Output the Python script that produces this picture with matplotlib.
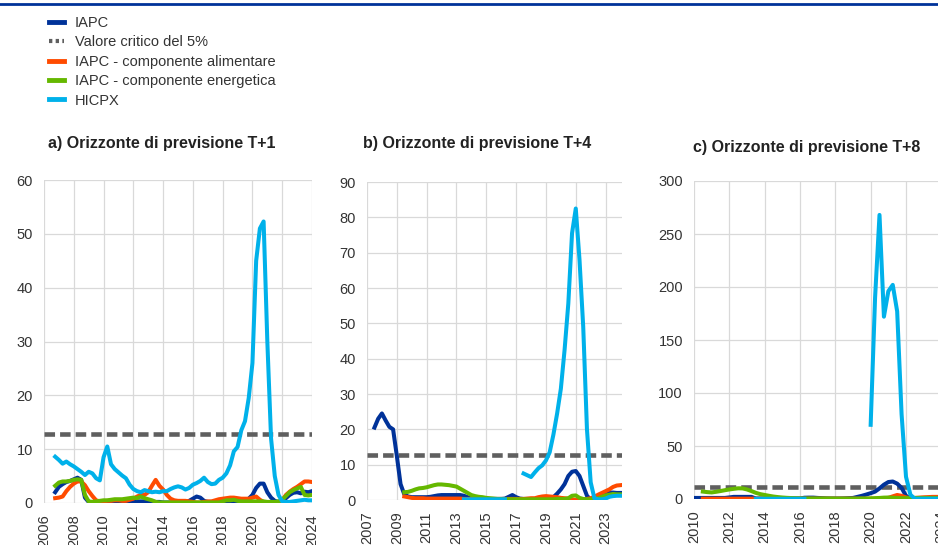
import numpy as np
import matplotlib
matplotlib.use('Agg')
import matplotlib.pyplot as plt
from matplotlib.lines import Line2D

plt.rcParams['font.family'] = ['Liberation Sans', 'DejaVu Sans']

nan = np.nan

# colori
blu = '#003299'
arancio = '#FF4B00'
verde = '#65B800'
azzurro = '#00B1EA'
grigio = '#5F5F5F'
testo = '#333333'

etichette = ['IAPC', 'Valore critico del 5%', 'IAPC - componente alimentare',
             'IAPC - componente energetica', 'HICPX']

titoli = ['a) Orizzonte di previsione T+1',
          'b) Orizzonte di previsione T+4',
          'c) Orizzonte di previsione T+8']

valore_critico = [12.9, 12.8, 11.0]

### a) T+1 : trimestri da 2006 Q4 a 2024 Q1
trim_a = np.arange(2006.75, 2024.01, 0.25)

iapc_a = [2.0,
          3.0, 3.5, 3.9, 4.1,
          4.4, 4.7, 4.3, 1.0,
          0.2, 0.1, 0.1, 0.1,
          0.1, 0.1, 0.1, 0.1,
          0.1, 0.1, 0.2, 0.2,
          0.3, 0.3, 0.3, 0.3,
          0.3, 0.3, 0.2, 0.2,
          0.1, 0.1, 0.1, 0.1,
          0.1, 0.1, 0.2, 0.4,
          0.8, 1.2, 1.0, 0.4,
          0.2, 0.2, 0.2, 0.2,
          0.2, 0.2, 0.3, 0.3,
          0.3, 0.3, 0.4, 0.8,
          1.5, 2.8, 3.6, 3.6,
          2.0, 1.0, 0.4, 0.2,
          0.3, 0.9, 1.5, 1.9,
          2.0, 1.8, 2.1, 2.0,
          2.2]

alim_a = [0.9,
          1.0, 1.2, 2.2, 3.0,
          3.6, 4.0, 4.0, 3.3,
          2.2, 1.3, 0.5, 0.3,
          0.3, 0.4, 0.4, 0.5,
          0.5, 0.4, 0.4, 0.6,
          0.8, 1.2, 1.5, 1.5,
          2.0, 3.2, 4.3, 3.2,
          2.5, 1.5, 0.8, 0.5,
          0.4, 0.4, 0.4, 0.3,
          0.2, 0.1, 0.1, 0.2,
          0.3, 0.3, 0.5, 0.7,
          0.8, 0.9, 1.0, 1.0,
          0.9, 0.8, 0.8, 0.8,
          1.0, 1.2, 0.6, 0.2,
          0.1, 0.1, 0.1, 0.1,
          0.5, 1.5, 2.1, 2.6,
          3.0, 3.5, 4.0, 4.0,
          3.9]

ener_a = [3.2,
          3.8, 4.0, 4.0, 4.1,
          4.3, 4.4, 4.3, 1.5,
          0.3, 0.2, 0.3, 0.4,
          0.5, 0.5, 0.6, 0.7,
          0.7, 0.7, 0.8, 0.9,
          1.0, 0.9, 1.2, 0.9,
          0.7, 0.5, 0.2, 0.1,
          0.1, 0.1, 0.1, 0.1,
          0.1, 0.1, 0.1, 0.1,
          0.1, 0.1, 0.1, 0.1,
          0.1, 0.1, 0.1, 0.1,
          0.3, 0.5, 0.5, 0.6,
          0.4, 0.3, 0.3, 0.3,
          0.3, 0.3, 0.3, 0.3,
          0.2, 0.2, 0.2, 0.3,
          0.6, 1.3, 2.0, 2.4,
          2.7, 3.0, 1.5, 1.4,
          1.5]

hicpx_a = [8.6,
           8.0, 7.3, 7.7, 7.2,
           6.8, 6.3, 5.8, 5.2,
           5.8, 5.5, 4.6, 4.2,
           8.5, 10.5, 7.2, 6.3,
           5.7, 5.1, 4.6, 3.4,
           2.6, 2.2, 2.0, 2.4,
           2.2, 2.0, 2.1, 2.0,
           2.2, 2.2, 2.6, 2.9,
           3.1, 2.9, 2.5, 2.8,
           3.4, 3.7, 4.1, 4.7,
           3.9, 3.5, 3.6, 4.3,
           4.7, 5.5, 7.0, 9.6,
           10.4, 13.5, 15.2, 19.5,
           26.0, 45.0, 51.0, 52.3,
           30.0, 12.0, 5.0, 1.5,
           0.3, 0.2, 0.2, 0.3,
           0.4, 0.5, 0.6, 0.5,
           0.5]

### b) T+4 : trimestri da 2007 Q3 a 2024 Q1
trim_b = np.arange(2007.5, 2024.01, 0.25)

iapc_b = [20.5, 23.0,
          24.5, 22.5, 20.7, 20.0,
          12.5, 4.5, 1.6, 1.0,
          0.8, 0.8, 0.8, 0.8,
          0.8, 0.9, 1.1, 1.3,
          1.4, 1.4, 1.4, 1.4,
          1.4, 1.4, 1.2, 0.8,
          0.4, 0.3, 0.3, 0.3,
          0.3, 0.3, 0.3, 0.3,
          0.3, 0.4, 0.9, 1.4,
          0.8, 0.4, 0.3, 0.3,
          0.3, 0.3, 0.3, 0.3,
          0.3, 0.4, 0.8, 1.8,
          3.0, 4.5, 6.8, 8.0,
          8.2, 6.8, 4.0, 1.2,
          0.1, 0.1, 0.3, 1.0,
          1.8, 2.1, 2.1, 2.0,
          2.0]

alim_b = [nan, nan,
          nan, nan, nan, nan,
          nan, nan, 1.0, 0.8,
          0.6, 0.5, 0.5, 0.5,
          0.4, 0.4, 0.4, 0.4,
          0.4, 0.4, 0.4, 0.4,
          0.4, 0.4, 0.3, 0.3,
          0.3, 0.3, 0.3, 0.3,
          0.3, 0.3, 0.3, 0.3,
          0.3, 0.3, 0.3, 0.3,
          0.3, 0.3, 0.3, 0.4,
          0.5, 0.5, 0.8, 1.0,
          1.1, 1.0, 0.9, 0.8,
          0.6, 0.5, 0.4, 0.2,
          0.0, 0.1, 0.2, 0.3,
          0.5, 0.9, 1.5, 2.0,
          2.5, 3.0, 3.7, 4.1,
          4.2]

ener_b = [nan, nan,
          nan, nan, nan, nan,
          nan, nan, 2.2, 2.3,
          2.6, 3.0, 3.3, 3.4,
          3.6, 3.9, 4.2, 4.4,
          4.4, 4.3, 4.2, 4.0,
          3.8, 3.2, 2.6, 2.0,
          1.4, 1.1, 0.9, 0.8,
          0.6, 0.5, 0.4, 0.3,
          0.3, 0.2, 0.2, 0.2,
          0.2, 0.2, 0.2, 0.2,
          0.2, 0.2, 0.2, 0.2,
          0.2, 0.2, 0.2, 0.3,
          0.3, 0.3, 0.5, 1.2,
          1.3, 0.6, 0.3, 0.2,
          0.2, 0.3, 0.5, 0.9,
          1.3, 1.5, 1.7, 1.6,
          1.6]

hicpx_b = [nan, nan,
           nan, nan, nan, nan,
           nan, nan, nan, nan,
           nan, nan, nan, nan,
           nan, nan, nan, nan,
           nan, nan, nan, nan,
           nan, nan, 0.2, 0.2,
           0.2, 0.2, 0.2, 0.2,
           0.2, 0.2, 0.2, 0.2,
           0.2, 0.2, nan, nan,
           nan, nan, 7.5, 7.0,
           6.5, 7.8, 9.0, 9.8,
           11.2, 13.5, 18.5, 24.5,
           31.5, 42.5, 55.6, 75.5,
           82.5, 68.0, 49.0, 20.0,
           5.0, 0.5, 0.2, 0.2,
           0.4, 0.9, 1.1, 1.2,
           1.2]

### c) T+8 : trimestri da 2010 Q1 a 2024 Q1
trim_c = np.arange(2010.0, 2024.01, 0.25)

iapc_c = [1.0, 1.0, 1.0, 1.0,
          1.0, 1.0, 1.0, 1.0,
          1.5, 2.0, 2.0, 2.0,
          2.0, 2.0, 0.5, 0.5,
          0.5, 0.5, 0.5, 0.5,
          0.5, 0.5, 0.5, 0.5,
          0.5, 1.2, 1.3, 1.3,
          1.0, 0.8, 0.6, 0.5,
          0.5, 0.5, 0.6, 0.8,
          1.0, 2.0, 3.0, 4.2,
          5.5, 7.0, 10.0, 13.5,
          16.0, 16.5, 14.5, 10.5,
          3.0, 0.5, 0.3, 0.3,
          0.3, 0.3, 0.3, 0.3,
          0.3]

alim_c = [nan, nan, 0.3, 0.3,
          0.3, 0.3, 0.3, 0.3,
          0.3, 0.3, 0.3, 0.3,
          0.3, 0.3, 0.3, 0.3,
          0.3, 0.3, 0.3, 0.3,
          0.3, 0.3, 0.3, 0.3,
          0.3, 0.3, 0.3, 0.3,
          0.3, 0.3, 0.3, 0.3,
          0.3, 0.3, 0.3, 0.3,
          0.3, 0.3, 0.3, 0.3,
          0.3, 0.3, 0.5, 0.8,
          1.0, 2.5, 3.8, 3.0,
          1.5, 0.8, 1.0, 1.3,
          1.6, 1.8, 2.0, 2.0,
          2.0]

ener_c = [nan, nan, 7.0, 6.5,
          6.2, 6.8, 7.5, 8.3,
          9.0, 9.6, 10.1, 10.0,
          9.0, 7.5, 5.8, 4.6,
          3.8, 3.0, 2.3, 1.8,
          1.4, 1.1, 0.9, 0.7,
          0.6, 0.5, 0.5, 0.5,
          0.5, 0.5, 0.5, 0.5,
          0.4, 0.4, 0.4, 0.4,
          0.4, 0.4, 0.5, 0.5,
          0.6, 0.8, 1.0, 1.3,
          1.4, 1.2, 1.0, 0.8,
          0.8, 1.0, 1.0, 1.0,
          1.0, 1.0, 1.0, 1.0,
          1.0]

hicpx_c = [nan, nan, nan, nan,
           nan, nan, nan, nan,
           nan, nan, nan, nan,
           nan, nan, 0.2, 0.2,
           0.2, 0.2, 0.2, 0.2,
           0.2, 0.2, 0.2, 0.2,
           0.2, 0.2, nan, nan,
           nan, nan, nan, nan,
           nan, nan, nan, nan,
           nan, nan, nan, nan,
           70.0, 190.0, 268.0, 172.0,
           196.0, 202.0, 177.0, 80.0,
           21.0, 4.0, 0.3, 0.3,
           0.3, 0.3, 0.3, 0.3,
           0.3]

# assi: xlim, xticks, ylim, yticks
xlim_list = [(2006, 2024), (2007, 2024.1), (2010, 2025)]
xtick_list = [np.arange(2006, 2025, 2), np.arange(2007, 2024, 2), np.arange(2010, 2025, 2)]
ylim_list = [(0, 60), (0, 90), (0, 300)]
ytick_list = [np.arange(0, 61, 10), np.arange(0, 91, 10), np.arange(0, 301, 50)]

dati = [(trim_a, iapc_a, alim_a, ener_a, hicpx_a),
        (trim_b, iapc_b, alim_b, ener_b, hicpx_b),
        (trim_c, iapc_c, alim_c, ener_c, hicpx_c)]

W, H = 938, 545
fig = plt.figure(figsize=(W / 100, H / 100), dpi=100)

# posizioni pannelli in pixel: sinistra, destra, alto, basso
box_px = [(44, 312, 180, 503), (367, 622, 182, 500), (694, 959, 181, 499)]
titolo_px = [(48, 143), (363, 143), (693, 147)]

lw = 2.9
for i in range(3):
    l, r, t, b = box_px[i]
    ax = fig.add_axes([l / W, 1 - b / H, (r - l) / W, (b - t) / H])
    x, iapc, alim, ener, hicpx = dati[i]

    ax.axhline(valore_critico[i], color=grigio, lw=3.3, dashes=(2.3, 1.1), zorder=2)
    ax.plot(x, iapc, color=blu, lw=lw, zorder=3, solid_joinstyle='round')
    ax.plot(x, alim, color=arancio, lw=lw, zorder=3, solid_joinstyle='round')
    ax.plot(x, ener, color=verde, lw=lw, zorder=3, solid_joinstyle='round')
    ax.plot(x, hicpx, color=azzurro, lw=lw, zorder=4, solid_joinstyle='round')

    ax.set_xlim(xlim_list[i])
    ax.set_ylim(ylim_list[i])
    ax.set_xticks(xtick_list[i])
    ax.set_yticks(ytick_list[i])
    ax.set_xticklabels([str(v) for v in xtick_list[i]], rotation=90)
    ax.tick_params(length=0, labelsize=10.5, colors=testo)
    ax.tick_params(axis='x', pad=8)
    ax.tick_params(axis='y', pad=8)
    ax.grid(True, color='#D9D9D9', lw=0.9)
    ax.set_axisbelow(True)
    for s in ax.spines.values():
        s.set_visible(False)

    fig.text(titolo_px[i][0] / W, 1 - titolo_px[i][1] / H, titoli[i],
             fontsize=11.5, fontweight='bold', color='#222222', va='center', ha='left')

# legenda
handles = [Line2D([], [], color=blu, lw=3.5),
           Line2D([], [], color=grigio, lw=3.0, dashes=(0.8, 0.8)),
           Line2D([], [], color=arancio, lw=3.5),
           Line2D([], [], color=verde, lw=3.5),
           Line2D([], [], color=azzurro, lw=3.5)]
fig.legend(handles, etichette, loc='upper left', bbox_to_anchor=(49 / W, 1 - 16 / H),
           frameon=False, fontsize=10.5, handlelength=1.0, handletextpad=0.75,
           labelspacing=0.37, borderpad=0, borderaxespad=0, labelcolor=testo)

# linea blu in alto
fig.add_artist(Line2D([0, 1], [1 - 4 / H, 1 - 4 / H], color=blu, lw=2.0))

plt.savefig('out.png', dpi=100)
